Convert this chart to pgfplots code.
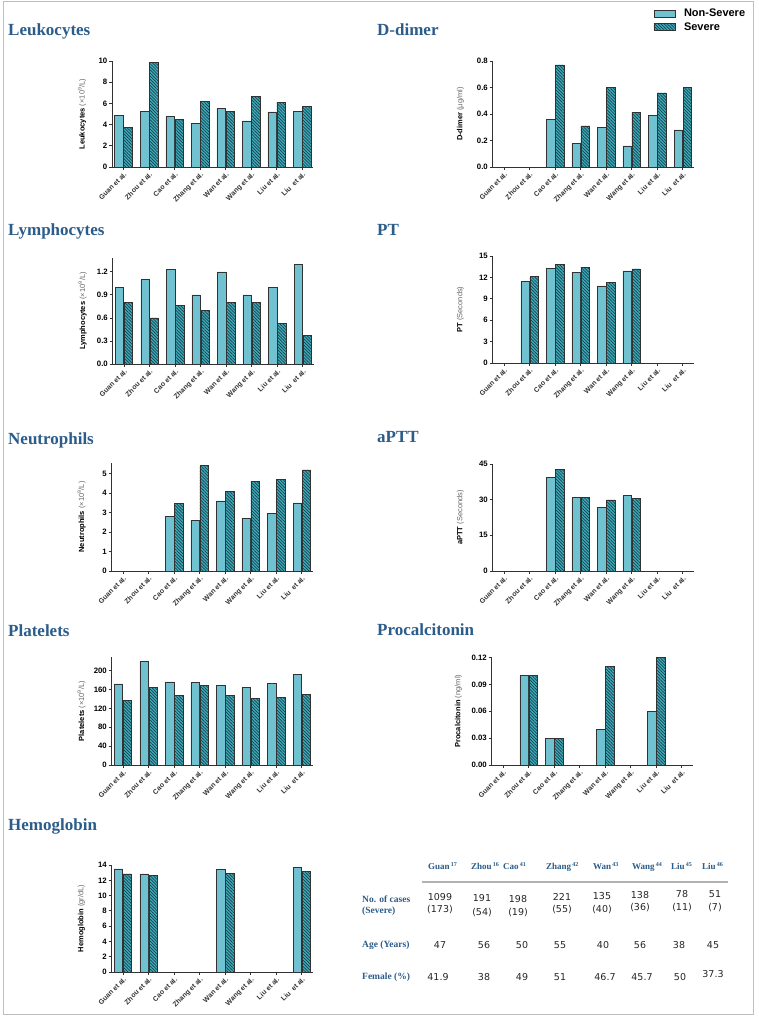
\documentclass[border=0pt]{standalone}
\usepackage{fontspec}
\setmainfont{Liberation Sans}
\newfontfamily\serifb{Liberation Serif}
\newfontfamily\verd{DejaVu Sans}
\usepackage{pgfplots}
\pgfplotsset{compat=1.18}
\usetikzlibrary{patterns.meta}

\definecolor{nsfill}{RGB}{112,194,208}
\definecolor{sfill}{RGB}{62,172,188}
\definecolor{hatch}{RGB}{24,64,74}
\definecolor{ttl}{RGB}{43,92,138}
\definecolor{axc}{RGB}{50,50,50}

\pgfplotsset{
  panel/.style={
    scale only axis, width=201pt,
    xmin=-0.45, xmax=7.42, ymin=0,
    axis x line*=bottom, axis y line*=left,
    axis line style={axc, line width=0.9pt},
    xtick={0,...,7},
    xticklabels={Guan et al., Zhou et al., Cao et al., Zhang et al., Wan et al., Wang et al., Liu et al., Liu\ \ et al.},
    xticklabel style={rotate=45, anchor=north east, font=\bfseries\fontsize{7}{8}\selectfont, text=black!80, inner sep=1pt},
    yticklabel style={font=\bfseries\fontsize{7.8}{8}\selectfont, inner sep=1.5pt},
    tick align=outside, major tick length=3pt,
    tick style={axc, line width=0.8pt},
    /pgf/number format/assume math mode=true,
    ylabel style={at={(axis description cs:-0.149,0.5)}, anchor=center, font=\fontsize{7.5}{8}\selectfont},
    ybar=0.5pt, bar width=8.5pt,
    clip=false,
  },
  ns/.style={fill=nsfill, draw=axc, line width=0.5pt},
  sv/.style={fill=sfill, draw=axc, line width=0.5pt,
    postaction={pattern={Lines[angle=-45,distance=2.2pt,line width=0.7pt]}, pattern color=hatch}},
  dec1/.style={yticklabel style={/pgf/number format/.cd, fixed, fixed zerofill, precision=1}},
  dec2/.style={yticklabel style={/pgf/number format/.cd, fixed, fixed zerofill, precision=2}},
}
\newcommand{\unit}[1]{{\mdseries\color{black!60}#1}}
\newcommand{\sref}[1]{\hspace{1.2pt}\textsuperscript{#1}}

\begin{document}
\begin{tikzpicture}[x=1pt, y=1pt]
\useasboundingbox (0,0) rectangle (759,1018);
\fill[white] (0,0) rectangle (759,1018);
\draw[black!25, line width=0.8pt] (3,1017) rectangle (753,4);

% titles
\begin{scope}[every node/.style={anchor=base west, font=\serifb\bfseries\fontsize{17}{19}\selectfont, text=ttl, inner sep=0pt}]
\node at (8,982) {Leukocytes};
\node at (377,982) {D-dimer};
\node at (8,782) {Lymphocytes};
\node at (377,782) {PT};
\node at (8,573) {Neutrophils};
\node at (377,575) {aPTT};
\node at (8,381) {Platelets};
\node at (377,382) {Procalcitonin};
\node at (8,187) {Hemoglobin};
\end{scope}

% Leukocytes
\begin{axis}[panel, at={(112pt,851pt)}, height=106pt, ymax=10, ytick={0,2,...,10},
  ylabel={\textbf{Leukocytes} \unit{(\texttimes10\textsuperscript{9}/L)}}]
\addplot[ns] coordinates {(0,4.9) (1,5.25) (2,4.75) (3,4.1) (4,5.55) (5,4.35) (6,5.2) (7,5.25)};
\addplot[sv] coordinates {(0,3.75) (1,9.85) (2,4.5) (3,6.2) (4,5.25) (5,6.65) (6,6.1) (7,5.7)};
\end{axis}

% D-dimer (with legend)
\begin{axis}[panel, dec1, at={(492.5pt,851pt)}, height=106pt, ymax=0.8, ytick={0,0.2,...,0.8},
  ylabel style={at={(axis description cs:-0.16,0.5)}},
  ylabel={\textbf{D-dimer} \unit{(µg/ml)}},
  legend style={at={(axis description cs:0.80,1.50)}, anchor=north west, draw=none, fill=none,
    font=\bfseries\fontsize{11}{12}\selectfont, row sep=2pt, inner sep=0pt, nodes={inner sep=1pt}},
  legend cell align=left,
  legend image code/.code={\draw[#1] (0pt,-3.5pt) rectangle (21pt,3.5pt); \path (29pt,0pt);}]
\addplot[ns] coordinates {(2,0.36) (3,0.18) (4,0.30) (5,0.16) (6,0.39) (7,0.28)};
\addlegendentry{Non-Severe}
\addplot[sv] coordinates {(2,0.77) (3,0.31) (4,0.60) (5,0.41) (6,0.56) (7,0.60)};
\addlegendentry{Severe}
\end{axis}

% Lymphocytes
\begin{axis}[panel, dec1, at={(112.5pt,654pt)}, height=106pt, ymax=1.38, ytick={0,0.3,...,1.2},
  ylabel={\textbf{Lymphocytes} \unit{(\texttimes10\textsuperscript{9}/L)}}]
\addplot[ns] coordinates {(0,1.0) (1,1.1) (2,1.23) (3,0.9) (4,1.2) (5,0.9) (6,1.0) (7,1.3)};
\addplot[sv] coordinates {(0,0.8) (1,0.6) (2,0.76) (3,0.7) (4,0.8) (5,0.8) (6,0.53) (7,0.37)};
\end{axis}

% PT
\begin{axis}[panel, at={(492.5pt,655pt)}, height=107pt, ymax=15, ytick={0,3,...,15},
  ylabel style={at={(axis description cs:-0.16,0.5)}},
  ylabel={\textbf{PT} \unit{(Seconds)}}]
\addplot[ns] coordinates {(1,11.4) (2,13.3) (3,12.7) (4,10.8) (5,12.9)};
\addplot[sv] coordinates {(1,12.1) (2,13.8) (3,13.4) (4,11.3) (5,13.2)};
\end{axis}

% Neutrophils
\begin{axis}[panel, at={(111.5pt,447pt)}, height=108pt, ymax=5.55, ytick={0,1,...,5},
  ylabel={\textbf{Neutrophils} \unit{(\texttimes10\textsuperscript{9}/L)}}]
\addplot[ns] coordinates {(2,2.8) (3,2.6) (4,3.6) (5,2.7) (6,2.97) (7,3.5)};
\addplot[sv] coordinates {(2,3.48) (3,5.41) (4,4.1) (5,4.6) (6,4.69) (7,5.2)};
\end{axis}

% aPTT
\begin{axis}[panel, at={(492.5pt,447pt)}, height=107pt, ymax=45, ytick={0,15,30,45},
  ylabel style={at={(axis description cs:-0.16,0.5)}},
  ylabel={\textbf{aPTT} \unit{(Seconds)}}]
\addplot[ns] coordinates {(2,39.3) (3,31.0) (4,26.7) (5,31.7)};
\addplot[sv] coordinates {(2,42.6) (3,31.0) (4,29.9) (5,30.5)};
\end{axis}

% Platelets
\begin{axis}[panel, at={(111.5pt,253pt)}, height=108pt, ymax=229, ytick={0,40,...,200},
  ylabel={\textbf{Platelets} \unit{(\texttimes10\textsuperscript{9}/L)}}]
\addplot[ns] coordinates {(0,172) (1,219) (2,176) (3,174.5) (4,169.5) (5,164.5) (6,173) (7,192)};
\addplot[sv] coordinates {(0,137) (1,164.5) (2,147) (3,169.5) (4,147) (5,141) (6,143) (7,150)};
\end{axis}

% Procalcitonin
\begin{axis}[panel, dec2, at={(491.5pt,253pt)}, height=107.5pt, ymax=0.12, ytick={0,0.03,0.06,0.09,0.12},
  ylabel style={at={(axis description cs:-0.165,0.5)}},
  ylabel={\textbf{Procalcitonin} \unit{(ng/ml)}}]
\addplot[ns] coordinates {(1,0.10) (2,0.03) (4,0.04) (6,0.06)};
\addplot[sv] coordinates {(1,0.10) (2,0.03) (4,0.11) (6,0.12)};
\end{axis}

% Hemoglobin
\begin{axis}[panel, at={(111.5pt,46pt)}, height=107pt, ymax=14, ytick={0,2,...,14},
  ylabel={\textbf{Hemoglobin} \unit{(gr/dL)}}]
\addplot[ns] coordinates {(0,13.5) (1,12.85) (4,13.45) (7,13.65)};
\addplot[sv] coordinates {(0,12.85) (1,12.65) (4,12.95) (7,13.2)};
\end{axis}

% study table
\begin{scope}[every node/.style={anchor=base west, font=\serifb\bfseries\fontsize{9}{11}\selectfont, text=ttl, inner sep=0pt}]
\node at (428,148) {Guan\sref{17}};
\node at (471,148) {Zhou\sref{16}};
\node at (503,148) {Cao\sref{41}};
\node at (546,148) {Zhang\sref{42}};
\node at (593,148) {Wan\sref{43}};
\node at (632,148) {Wang\sref{44}};
\node at (671,148) {Liu\sref{45}};
\node at (702,148) {Liu\sref{46}};
\end{scope}
\draw[black!30, line width=1.2pt] (422,136) -- (728,136);
\begin{scope}[every node/.style={anchor=west, font=\serifb\bfseries\fontsize{9.5}{11}\selectfont, text=ttl, inner sep=0pt}]
\node at (362,119) {No. of cases};
\node at (362,107) {(Severe)};
\node at (362,73) {Age (Years)};
\node at (362,41) {Female (\%)};
\end{scope}
\begin{scope}[every node/.style={anchor=center, font=\verd\fontsize{9.5}{11}\selectfont, text=black!85, inner sep=0pt}]
\node at (440,121) {1099}; \node at (440,108) {(173)};
\node at (482,120) {191};  \node at (482,105.5) {(54)};
\node at (518,119) {198};  \node at (518,105) {(19)};
\node at (562,121) {221};  \node at (562,108) {(55)};
\node at (602,122) {135};  \node at (602,108) {(40)};
\node at (640,123) {138};  \node at (640,110) {(36)};
\node at (682,124) {78};   \node at (682,110) {(11)};
\node at (715,124) {51};   \node at (715,110) {(7)};
\node at (440,73) {47}; \node at (484,73) {56}; \node at (522,73) {50}; \node at (560,73) {55};
\node at (603,73) {40}; \node at (640,73) {56}; \node at (679,73) {38}; \node at (713,73) {45};
\node at (438,41) {41.9}; \node at (484,41) {38}; \node at (522,41) {49}; \node at (560,41) {51};
\node at (605,41) {46.7}; \node at (642,41) {45.7}; \node at (680,41) {50}; \node at (713,44) {37.3};
\end{scope}
\end{tikzpicture}
\end{document}
